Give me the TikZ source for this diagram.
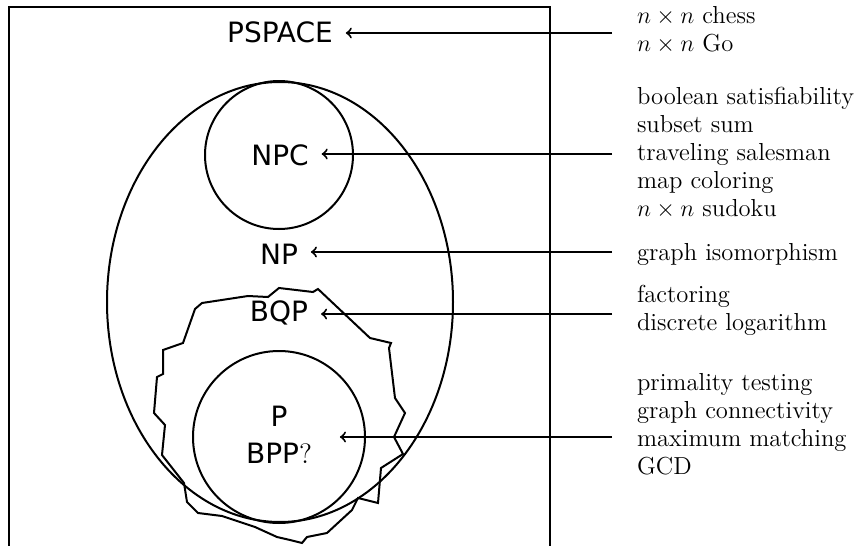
\documentclass[tikz,border=0pt]{standalone}
\usepackage{fontspec}
\newfontfamily\clsfont{DejaVu Sans}
\begin{document}
\begin{tikzpicture}[x=0.5pt, y=-0.5pt, line width=1pt,
  cls/.style={font=\clsfont\fontsize{14}{18.5}\selectfont, inner xsep=6pt, inner ysep=0pt, align=center},
  probs/.style={font=\fontsize{12.3}{14}\selectfont, align=left, anchor=west, inner sep=0pt},
  link/.style={->, line width=1pt}]
\useasboundingbox (0,0) rectangle (858,546);

% PSPACE region (open at the bottom)
\draw[line width=1.1pt] (9,546) -- (9,7) -- (550,7) -- (550,546);
% NP, NP-complete and P regions
\draw (280,302) ellipse [x radius=173, y radius=220];
\draw (279,155) circle [radius=74];
\draw (279,437) circle [radius=86];
% BQP region
\draw (202,303) -- (248,296) -- (268,297) -- (279,288) -- (313,292) -- (318,289)
  -- (370,338) -- (391,343) -- (389,348) -- (395,398) -- (405,413) -- (394,437)
  -- (403,454) -- (381,468) -- (378,503) -- (358,498) -- (352,510) -- (327,533)
  -- (307,537) -- (302,543) -- (290,540) -- (277,537) -- (255,527) -- (222,516)
  -- (198,513) -- (187,502) -- (184,483) -- (162,455) -- (165,425) -- (154,413)
  -- (157,377) -- (163,374) -- (163,350) -- (183,343) -- (195,309) -- cycle;

% class labels
\node[cls] (pspace) at (280,32) {PSPACE};
\node[cls] (npc) at (280,155) {NPC};
\node[cls] (np) at (279,254) {NP};
\node[cls] (bqp) at (279,313) {BQP};
\node[cls, inner xsep=13.5pt] (pbpp) at (279,435) {P\\BPP{\rmfamily ?}};

% example problems
\node[probs] (g1) at (636,30) {$n\times n$ chess\\$n\times n$ Go};
\node[probs] (g2) at (636,153) {boolean satisfiability\\subset sum\\traveling salesman\\map coloring\\$n\times n$ sudoku};
\node[probs] (g3) at (636,254) {graph isomorphism};
\node[probs] (g4) at (636,310.5) {factoring\\discrete logarithm};
\node[probs] (g5) at (636,424.5) {primality testing\\graph connectivity\\maximum matching\\GCD};

% arrows from the problem lists to the classes
\coordinate (s1) at (612,33);
\coordinate (s2) at (612,154);
\coordinate (s3) at (612,252);
\coordinate (s4) at (612,314);
\coordinate (s5) at (612,437);
\draw[link] (s1) -- (s1 -| pspace.east);
\draw[link] (s2) -- (s2 -| npc.east);
\draw[link] (s3) -- (s3 -| np.east);
\draw[link] (s4) -- (s4 -| bqp.east);
\draw[link] (s5) -- (s5 -| pbpp.east);
\end{tikzpicture}
\end{document}
